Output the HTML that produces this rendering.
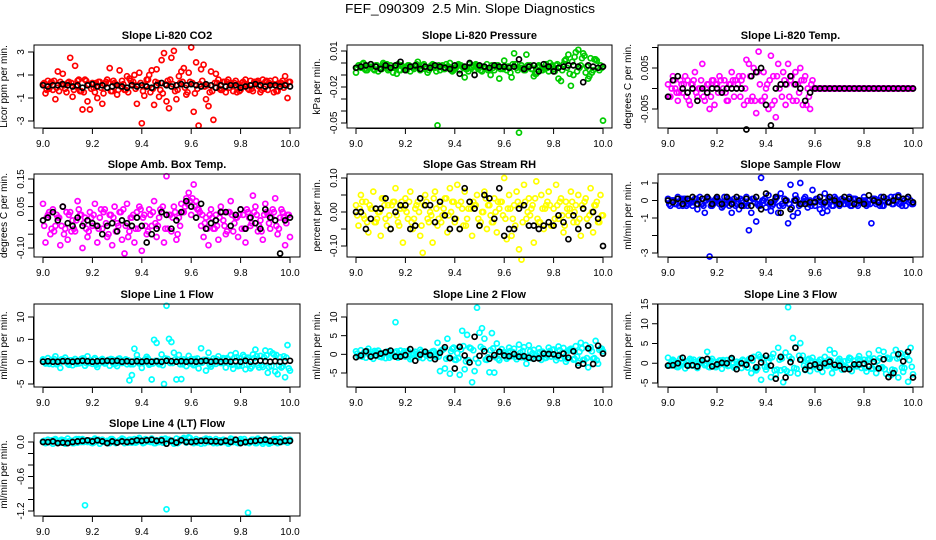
<!DOCTYPE html>
<html><head><meta charset="utf-8"><style>
body{margin:0;background:#fff;}
svg{display:block;font-family:"Liberation Sans",sans-serif;}
</style></head><body>
<svg id="chart" width="936" height="540" viewBox="0 0 936 540" xmlns="http://www.w3.org/2000/svg">
<text x="470" y="13" text-anchor="middle" font-size="13" textLength="250" lengthAdjust="spacingAndGlyphs" xml:space="preserve">FEF_090309  2.5 Min. Slope Diagnostics</text>
</svg>
<script>
// shared x values
const X1=[9.00,9.01,9.02,9.03,9.04,9.05,9.06,9.07,9.08,9.09,9.10,9.11,9.12,9.13,9.14,9.15,9.16,9.17,9.18,9.19,9.20,9.21,9.22,9.23,9.24,9.25,9.26,9.27,9.28,9.29,9.30,9.31,9.32,9.33,9.34,9.35,9.36,9.37,9.38,9.39,9.40,9.41,9.42,9.43,9.44,9.45,9.46,9.47,9.48,9.49,9.50,9.51,9.52,9.53,9.54,9.55,9.56,9.57,9.58,9.59,9.60,9.61,9.62,9.63,9.64,9.65,9.66,9.67,9.68,9.69,9.70,9.71,9.72,9.73,9.74,9.75,9.76,9.77,9.78,9.79,9.80,9.81,9.82,9.83,9.84,9.85,9.86,9.87,9.88,9.89,9.90,9.91,9.92,9.93,9.94,9.95,9.96,9.97,9.98,9.99,10.00];
const X2=[9.005,9.025,9.045,9.065,9.085,9.105,9.125,9.145,9.165,9.185,9.205,9.225,9.245,9.265,9.285,9.305,9.325,9.345,9.365,9.385,9.405,9.425,9.445,9.465,9.485,9.505,9.525,9.545,9.565,9.585,9.605,9.625,9.645,9.665,9.685,9.705,9.725,9.745,9.765,9.785,9.805,9.825,9.845,9.865,9.885,9.905,9.925,9.945,9.965,9.985];
const X3=[9.015,9.035,9.055,9.075,9.095,9.115,9.135,9.155,9.175,9.195,9.215,9.235,9.255,9.275,9.295,9.315,9.335,9.355,9.375,9.395,9.415,9.435,9.455,9.475,9.495,9.515,9.535,9.555,9.575,9.595,9.615,9.635,9.655,9.675,9.695,9.715,9.735,9.755,9.775,9.795,9.815,9.835,9.855,9.875,9.895,9.915,9.935,9.955,9.975,9.995];
const XB=[9.00,9.02,9.04,9.06,9.08,9.10,9.12,9.14,9.16,9.18,9.20,9.22,9.24,9.26,9.28,9.30,9.32,9.34,9.36,9.38,9.40,9.42,9.44,9.46,9.48,9.50,9.52,9.54,9.56,9.58,9.60,9.62,9.64,9.66,9.68,9.70,9.72,9.74,9.76,9.78,9.80,9.82,9.84,9.86,9.88,9.90,9.92,9.94,9.96,9.98,10.00];
const xTicks=[9.0,9.2,9.4,9.6,9.8,10.0];
const xTickLabels=["9.0","9.2","9.4","9.6","9.8","10.0"];

// Panel 1: CO2
const co2A=[0.2,-0.6,0.5,0.3,-0.3,-1.1,1.3,0.4,1.1,-0.2,0.3,2.5,-0.9,1.8,0.5,-0.4,-2.0,0.6,-1.3,-2.0,0.3,-0.5,-1.0,0.4,-1.5,0.2,0.6,1.6,-0.4,0.3,-0.7,1.4,0.5,-0.3,0.9,0.7,0.2,1.0,-1.5,1.2,-3.2,-0.8,0.6,1.0,1.4,-1.6,1.5,-0.9,2.3,2.9,-1.3,-1.9,2.5,3.1,-1.1,0.9,1.3,1.6,-0.7,1.2,3.4,-2.2,2.1,-3.4,1.5,1.9,-1.1,-1.7,1.3,-2.9,1.1,0.6,-0.3,0.4,-0.5,0.6,0.3,-0.4,0.5,0.2,-0.3,0.4,0.6,-0.2,0.5,-0.4,0.3,0.5,-0.5,0.6,0.4,-0.3,0.5,0.2,0.6,-0.4,0.3,0.5,0.9,-1.0,0.4];
const co2B=[0.3,-0.2,0.5,-0.4,0.1,0.4,-0.3,0.6,-0.5,0.2,-0.1,0.4,-0.6,0.3,0.5,-0.3,0.2,-0.5,0.4,0.1,-0.4,0.6,-0.2,0.3,-0.6,0.5,0.2,-0.3,0.4,-0.5,0.3,-0.2,0.5,0.1,-0.4,0.3,-0.3,0.4,0.2,-0.5,0.3,0.1,-0.2,0.4,-0.3,0.5,0.2,-0.4,0.3,0.1];
const co2C=[-0.3,0.4,-0.1,0.2,-0.5,0.3,0.0,-0.4,0.5,-0.2,0.3,-0.1,0.4,-0.4,0.2,0.0,-0.3,0.5,-0.2,0.3,0.1,-0.5,0.4,-0.3,0.2,0.6,-0.4,0.3,-0.1,0.4,-0.6,0.2,0.0,-0.5,0.3,-0.2,0.4,-0.1,0.3,-0.4,0.2,-0.3,0.4,0.0,-0.2,0.3,-0.5,0.2,-0.1,0.4];
const co2K=[0.1,0.0,0.1,0.1,0.2,0.1,0.0,0.1,-0.1,0.1,0.2,0.0,0.1,-0.1,0.0,0.1,0.0,-0.1,0.1,0.0,0.1,0.0,-0.1,0.1,0.3,0.1,0.0,0.1,0.2,0.1,0.2,0.1,0.0,0.2,0.1,-0.1,0.1,0.0,0.1,0.1,-0.1,0.0,0.1,0.2,0.1,0.0,0.1,0.1,0.0,0.1,0.0];

// Panel 2: Pressure
const prA=[-0.008,-0.002,-0.004,0.000,-0.006,-0.003,-0.001,-0.005,-0.002,-0.007,-0.004,0.000,-0.003,-0.006,-0.002,-0.008,-0.004,-0.001,-0.006,-0.003,-0.005,-0.002,-0.007,-0.004,-0.003,0.001,-0.006,-0.002,-0.005,-0.008,-0.003,-0.001,-0.004,-0.052,-0.006,-0.002,-0.005,-0.003,0.000,-0.007,-0.004,-0.002,-0.006,-0.003,-0.012,-0.005,-0.001,-0.004,-0.006,-0.002,-0.003,-0.007,-0.004,-0.001,-0.005,-0.002,-0.006,-0.003,-0.013,-0.004,0.002,-0.006,-0.003,-0.012,0.008,-0.004,-0.058,-0.002,-0.006,0.007,-0.003,-0.005,-0.011,-0.009,-0.002,-0.006,-0.004,-0.001,-0.007,-0.003,-0.005,-0.002,-0.013,-0.015,-0.001,0.003,0.007,-0.019,-0.010,0.009,0.011,-0.002,0.008,-0.008,-0.013,0.004,-0.006,0.003,-0.004,-0.002,-0.048];
const prB=[-0.004,-0.001,-0.006,-0.003,-0.002,-0.005,-0.001,-0.004,-0.009,-0.002,-0.006,-0.003,-0.001,-0.005,-0.004,-0.002,-0.007,-0.003,-0.001,-0.006,-0.004,-0.002,-0.005,-0.003,-0.001,-0.006,-0.004,-0.010,-0.002,-0.005,-0.003,-0.008,-0.001,-0.004,-0.006,-0.002,-0.009,-0.003,-0.005,0.000,-0.007,-0.003,0.002,-0.009,0.005,-0.004,0.006,-0.011,0.003,-0.006];
const prC=[-0.002,-0.005,-0.003,-0.006,-0.004,-0.001,-0.005,-0.003,-0.006,-0.004,-0.002,-0.005,-0.003,-0.001,-0.006,-0.004,-0.002,-0.005,-0.003,-0.006,-0.001,-0.004,-0.007,-0.002,-0.005,-0.003,-0.006,-0.004,-0.002,-0.005,-0.003,-0.001,-0.006,-0.004,-0.002,-0.005,-0.003,-0.006,-0.004,-0.002,-0.001,-0.006,-0.004,0.001,-0.007,0.004,-0.003,-0.008,0.002,-0.004];
const prK=[-0.004,-0.003,-0.002,-0.001,-0.003,-0.005,-0.002,-0.004,-0.002,0.001,-0.006,-0.003,-0.002,-0.005,-0.003,-0.004,-0.002,-0.003,-0.004,-0.005,-0.002,-0.009,-0.003,0.000,-0.010,-0.002,-0.003,-0.004,-0.002,-0.003,-0.003,-0.004,-0.003,0.003,-0.005,-0.003,-0.002,-0.007,-0.001,-0.003,-0.007,-0.004,-0.003,-0.002,-0.002,-0.003,-0.016,-0.002,-0.003,-0.004,-0.003];

// Panel 3: Temp
const tpA=[0.001,-0.002,0.003,0.000,-0.003,0.002,-0.001,0.003,0.002,-0.004,0.001,0.004,-0.002,0.000,0.006,-0.003,0.001,-0.005,0.002,-0.004,0.001,0.003,-0.001,0.002,-0.003,0.001,0.004,-0.002,0.000,0.003,0.002,-0.004,0.007,0.006,-0.003,0.005,-0.006,0.009,-0.003,0.004,0.000,-0.005,0.008,0.003,-0.007,0.006,0.001,0.004,-0.004,0.006,0.002,-0.003,0.004,0.001,0.005,-0.004,0.003,0.000,-0.005,0.002,0.000,0.000,0.000,0.000,0.000,0.000,0.000,0.000,0.000,0.000,0.000,0.000,0.000,0.000,0.000,0.000,0.000,0.000,0.000,0.000,0.000,0.000,0.000,0.000,0.000,0.000,0.000,0.000,0.000,0.000,0.000,0.000,0.000,0.000,0.000,0.000,0.000,0.000,0.000,0.000,0.000];
const tpB=[-0.002,0.002,-0.001,0.001,-0.003,0.002,0.000,-0.002,0.001,0.002,-0.001,0.000,-0.003,0.002,0.001,0.003,-0.003,-0.002,0.004,-0.003,0.001,-0.004,0.003,-0.002,0.001,0.003,-0.003,0.002,-0.004,0.001,0.000,0.000,0.000,0.000,0.000,0.000,0.000,0.000,0.000,0.000,0.000,0.000,0.000,0.000,0.000,0.000,0.000,0.000,0.000,0.000];
const tpC=[0.000,-0.001,0.001,-0.002,0.001,-0.001,0.002,0.000,-0.002,0.001,0.002,-0.001,0.001,0.002,-0.002,0.000,0.003,-0.003,0.001,-0.002,0.002,-0.003,0.000,0.002,-0.002,0.001,-0.001,0.002,-0.002,0.000,0.000,0.000,0.000,0.000,0.000,0.000,0.000,0.000,0.000,0.000,0.000,0.000,0.000,0.000,0.000,0.000,0.000,0.000,0.000,0.000];
const tpK=[-0.002,0.002,0.003,0.000,-0.001,0.000,-0.003,0.000,-0.001,0.000,0.000,-0.001,0.000,0.000,0.000,0.000,-0.010,0.003,0.004,0.005,-0.004,-0.009,0.000,0.001,0.001,0.003,0.001,0.000,-0.003,-0.001,0.000,0.000,0.000,0.000,0.000,0.000,0.000,0.000,0.000,0.000,0.000,0.000,0.000,0.000,0.000,0.000,0.000,0.000,0.000,0.000,0.000];

// Panel 4: Amb box temp
const abA=[0.06,-0.08,0.02,-0.05,0.04,-0.02,0.01,-0.09,0.05,-0.03,-0.07,0.03,0.00,-0.04,0.07,0.02,-0.10,0.01,-0.06,0.03,-0.02,0.06,-0.08,0.01,-0.03,0.04,-0.06,0.02,-0.09,0.05,-0.01,0.03,-0.07,-0.12,0.06,-0.04,0.01,-0.08,0.03,0.05,-0.11,0.02,-0.05,0.04,-0.02,0.07,-0.06,0.01,0.03,-0.08,0.16,0.02,-0.04,0.05,-0.07,0.01,0.06,0.03,0.08,0.10,0.02,0.13,0.07,0.04,-0.02,-0.06,0.01,-0.09,0.04,-0.03,0.02,-0.07,0.05,0.00,-0.05,0.03,0.07,-0.04,0.01,-0.06,0.04,0.02,-0.08,0.03,-0.02,0.09,0.05,-0.04,0.00,-0.07,0.06,0.02,-0.03,0.04,0.08,-0.05,0.01,0.03,-0.09,0.02,-0.06];
const abB=[-0.02,0.03,-0.04,0.01,-0.05,0.02,-0.03,0.04,-0.01,-0.04,0.02,-0.03,0.03,-0.05,0.01,-0.02,0.04,-0.06,0.02,-0.03,0.01,-0.04,0.03,-0.02,0.05,-0.03,0.01,-0.05,0.03,0.06,0.08,0.04,0.02,-0.03,0.01,-0.02,0.03,-0.04,0.02,0.01,-0.03,0.04,-0.01,0.02,-0.04,0.03,0.01,-0.02,0.04,-0.01];
const abC=[0.01,-0.03,0.02,-0.02,0.03,-0.04,0.00,0.02,-0.03,0.01,-0.02,0.04,-0.01,0.02,-0.04,0.03,-0.02,0.01,-0.03,0.04,-0.02,0.02,-0.01,0.04,-0.03,0.02,0.03,-0.02,0.05,0.07,0.05,0.03,-0.01,0.02,-0.03,0.01,-0.02,0.03,-0.01,0.02,-0.03,0.01,0.03,-0.02,0.02,-0.01,0.03,-0.03,0.01,0.02];
const abK=[0.00,0.01,0.03,0.00,0.05,-0.01,-0.02,0.01,-0.02,0.00,-0.01,-0.02,-0.05,-0.02,-0.01,-0.04,0.00,-0.01,-0.02,0.01,-0.02,-0.08,-0.05,-0.03,0.03,0.02,-0.03,0.00,0.03,0.07,0.05,0.01,0.06,-0.03,-0.01,0.00,0.03,0.03,-0.02,0.02,0.04,-0.03,0.01,-0.01,-0.03,0.04,0.01,0.00,-0.12,0.00,0.01];

// Panel 5: Gas RH
const rhA=[0.02,-0.04,0.05,-0.01,0.03,-0.06,0.01,0.06,-0.03,0.00,-0.07,0.04,-0.02,0.02,-0.05,0.03,0.07,-0.03,0.01,-0.09,0.04,-0.02,0.06,-0.05,0.01,0.03,-0.07,-0.12,0.05,-0.02,0.00,-0.09,0.06,-0.04,0.02,-0.01,0.04,-0.06,0.07,0.03,-0.03,0.08,-0.05,0.01,0.06,-0.02,0.03,-0.07,0.02,0.05,-0.04,0.00,0.06,-0.05,0.02,-0.03,0.04,-0.06,0.01,0.03,0.10,-0.08,0.05,-0.07,0.02,0.06,-0.11,-0.14,0.08,-0.02,0.04,0.01,-0.09,0.09,-0.03,0.05,-0.05,0.02,0.06,-0.04,0.01,0.08,-0.02,0.04,-0.06,0.03,-0.01,0.06,-0.03,0.02,0.05,-0.07,0.01,0.04,-0.04,0.07,-0.06,0.02,-0.03,0.05,-0.01];
const rhB=[-0.01,0.03,-0.03,0.01,-0.02,0.04,-0.04,0.02,-0.01,0.03,0.00,-0.03,0.02,-0.04,0.03,-0.01,0.01,-0.03,0.04,0.00,-0.02,0.03,-0.04,0.01,0.02,-0.03,0.04,-0.01,0.00,0.03,-0.02,0.01,-0.04,0.02,0.03,-0.01,0.04,-0.03,0.01,0.02,-0.02,0.03,-0.04,0.01,0.00,-0.02,0.03,-0.01,0.02,-0.03];
const rhC=[0.01,-0.02,0.02,-0.03,0.00,0.02,-0.01,0.03,-0.04,0.01,0.03,-0.02,0.00,0.02,-0.03,0.04,-0.02,0.01,-0.01,0.03,0.02,-0.04,0.01,0.03,-0.02,0.00,0.02,-0.03,0.03,-0.01,0.01,-0.02,0.03,-0.03,0.00,0.02,-0.02,0.01,0.03,-0.04,0.02,-0.01,0.01,0.03,-0.03,0.02,-0.02,0.00,0.03,-0.01];
const rhK=[0.00,0.00,-0.05,-0.02,0.01,0.01,0.04,-0.05,0.00,0.02,0.02,-0.05,-0.04,0.04,0.02,0.02,-0.03,0.03,-0.01,-0.05,-0.02,-0.05,0.07,0.03,0.01,-0.04,0.05,0.04,-0.02,0.07,-0.07,-0.05,-0.05,0.01,0.02,-0.04,-0.04,-0.05,-0.04,-0.03,-0.04,-0.01,-0.03,-0.08,-0.01,-0.05,0.01,-0.04,0.00,-0.02,-0.10];

// Panel 6: Sample flow
const sfA=[0.1,-0.3,0.0,-0.2,0.2,-0.1,-0.3,0.1,-0.2,0.0,-0.3,0.1,-0.5,0.2,-0.2,-0.7,0.1,-3.2,-0.3,0.0,0.1,-0.2,-0.4,0.2,0.0,-0.3,-0.7,0.1,-0.2,-0.5,0.0,-0.3,0.2,-1.7,-0.7,0.1,-1.2,-0.3,1.3,0.0,-0.4,0.3,-0.6,-0.2,0.1,-0.7,0.4,-0.3,0.0,-1.3,0.9,-0.9,0.3,-0.7,1.0,-0.1,0.2,-0.4,0.0,0.6,-0.3,0.1,-0.5,-0.7,0.4,-0.6,0.0,-0.3,0.2,-0.1,-0.3,0.1,-0.2,0.0,0.2,-0.3,0.1,-0.2,0.0,-0.1,0.2,-0.3,0.0,-1.3,0.1,-0.2,0.0,0.2,-0.3,0.1,-0.1,0.2,-0.2,0.0,0.3,-0.1,0.1,-0.3,0.2,0.0,-0.2];
const sfB=[-0.2,0.0,-0.3,0.1,-0.2,-0.1,0.0,-0.3,0.1,-0.2,0.0,-0.3,0.1,-0.1,-0.2,0.0,-0.3,0.1,-0.2,0.0,-0.1,-0.3,0.2,-0.2,0.0,-0.4,0.1,-0.2,0.0,-0.3,0.1,-0.1,-0.3,0.0,0.1,-0.2,0.0,-0.3,0.1,-0.1,0.0,-0.2,0.1,-0.3,0.0,-0.1,0.2,-0.2,0.0,-0.1];
const sfC=[0.0,-0.2,0.1,-0.3,-0.1,0.1,-0.2,0.0,-0.3,0.1,-0.1,-0.2,0.0,-0.3,0.1,-0.2,0.0,-0.1,-0.3,0.1,-0.2,0.0,-0.3,0.1,-0.2,0.0,-0.3,0.1,-0.2,-0.1,0.0,-0.2,0.1,-0.3,-0.1,0.0,-0.2,0.1,-0.3,0.0,-0.2,0.1,-0.1,-0.3,0.1,-0.2,0.0,-0.3,0.1,-0.2];
const sfK=[0.0,-0.1,0.1,-0.2,0.1,0.2,-0.2,0.1,0.2,-0.2,0.2,-0.2,0.2,-0.2,0.2,-0.3,0.1,-0.3,0.2,-0.5,0.4,-0.1,0.2,-0.7,0.0,-0.5,0.0,-0.2,-0.2,-0.1,-0.1,0.2,-0.1,0.2,0.0,-0.2,0.2,0.1,-0.2,0.0,-0.2,0.3,0.0,-0.1,0.2,-0.1,0.0,0.2,0.1,0.2,-0.1];

// Panel 7: Line 1 flow
const l1A=[0.5,-0.4,0.8,0.2,-0.6,1.2,-0.2,-1.4,0.4,0.9,-0.5,0.3,-0.8,0.6,0.1,-0.3,0.7,-0.9,1.2,0.3,-0.5,0.8,-1.2,0.2,0.6,-0.4,0.1,-0.9,0.5,0.3,-1.0,0.7,-0.3,0.2,-0.6,-4.2,-3.0,2.9,1.5,-0.4,-1.4,0.3,1.1,-0.7,-4.0,4.9,4.2,-0.6,1.6,-5.0,12.5,5.1,4.4,2.0,-4.0,1.5,-3.9,0.5,-1.0,1.3,0.6,-0.8,0.2,-1.5,3.0,0.4,-2.0,2.0,-1.1,0.7,-0.5,1.2,-0.3,0.8,-1.3,0.5,1.5,-1.6,1.9,-1.0,0.7,1.5,-1.7,0.9,-1.5,1.6,2.7,-0.8,1.3,-1.2,2.5,-2.5,2.3,1.9,-2.2,-2.8,1.0,-1.0,-3.5,3.7,-2.0];
const l1B=[0.3,-0.5,0.6,-0.2,0.4,-0.7,0.2,-0.4,0.7,-0.3,0.5,-0.6,0.1,0.4,-0.5,0.6,-0.2,0.3,-0.6,0.5,-0.3,0.7,-0.4,0.2,-0.8,0.6,-0.3,0.4,-0.6,0.3,-0.5,0.7,-0.2,0.4,-0.6,0.5,-0.3,0.8,-0.7,1.0,-0.9,0.6,-1.1,1.2,-0.8,1.4,-1.0,1.5,-1.3,0.9];
const l1C=[-0.2,0.4,-0.6,0.5,-0.1,0.3,-0.5,0.6,-0.3,0.2,-0.7,0.4,-0.2,0.6,-0.4,0.1,0.5,-0.6,0.3,-0.2,0.6,-0.5,0.2,-0.4,0.7,-0.3,0.5,-0.6,0.2,-0.4,0.6,-0.3,0.4,-0.7,0.3,-0.2,0.6,-0.5,0.9,-0.8,1.1,-0.6,0.8,-1.3,1.0,-1.2,1.6,-0.9,1.2,-1.5];
const l1K=[0.0,0.1,0.0,0.0,0.1,0.1,0.0,0.1,0.2,0.1,0.0,0.1,0.1,0.2,0.1,0.2,0.0,0.1,0.0,0.1,0.0,0.1,0.0,0.1,0.0,0.2,0.1,0.0,0.1,0.0,0.1,0.0,0.1,0.2,0.0,0.1,0.0,0.1,0.0,0.1,0.0,0.2,0.0,0.1,0.2,0.1,0.0,0.1,0.0,0.1,0.2];

// Panel 8: Line 2 flow
const l2A=[0.8,-0.5,1.1,0.2,-0.9,1.5,0.0,-1.2,0.6,1.0,-0.7,0.3,-1.0,0.8,0.2,-0.4,8.6,-0.9,1.0,0.3,-0.6,0.9,-1.3,0.1,0.7,-0.5,1.2,-1.0,0.4,0.3,-1.1,0.8,-0.4,3.1,-4.5,1.2,-3.8,4.2,-5.2,1.5,-1.4,0.3,-5.5,6.3,-4.0,5.2,1.8,-7.5,-4.5,12.5,5.8,7.0,4.2,-1.5,-4.8,5.7,-4.9,2.9,-1.6,1.4,0.6,-1.2,1.8,-0.5,1.5,-1.3,2.6,-0.8,1.9,-2.5,2.4,-1.0,1.2,-0.3,1.6,-1.5,0.4,-0.9,1.8,-0.6,1.3,-1.6,2.1,-1.1,1.7,-2.0,1.0,1.5,-1.4,2.2,-2.3,3.1,-1.5,2.5,-3.5,1.9,-1.2,3.6,-2.5,1.6,0.8];
const l2B=[0.2,-0.6,0.9,-0.3,0.5,-0.8,0.3,-0.5,0.8,-0.2,0.6,-0.9,0.1,0.7,-0.4,0.5,-0.7,1.0,-1.2,0.8,-1.5,1.3,-1.9,1.6,-1.2,2.0,-1.4,1.1,-0.8,0.6,-0.5,0.9,-0.7,0.4,-0.9,0.8,-0.4,0.6,-1.0,0.9,-0.5,1.1,-0.9,1.3,-1.2,0.7,-1.5,1.4,-1.0,1.2];
const l2C=[-0.4,0.7,-0.2,0.9,-0.6,0.4,-0.9,0.6,-0.3,0.8,-0.5,0.3,-0.8,0.5,-0.2,0.9,-0.6,1.4,-0.9,1.8,-1.0,2.2,-1.6,1.1,-2.3,1.5,-0.8,1.6,-1.2,0.4,-0.8,0.6,-0.3,0.9,-0.6,0.3,-0.9,0.7,-0.4,1.2,-0.8,0.5,-1.3,1.0,-0.6,1.6,-1.0,0.8,-1.6,1.5];
const l2K=[-0.8,-0.3,0.8,-0.6,-0.3,0.2,0.6,1.0,-0.6,-0.6,-0.2,1.4,-1.7,-0.1,0.7,-0.2,-1.3,0.4,1.9,-1.0,-3.8,2.0,-0.3,-2.2,4.7,-0.4,0.8,-1.2,-0.2,0.7,-0.3,-0.5,0.1,-0.6,-0.5,-0.9,-1.2,-1.1,0.2,0.1,0.0,-0.3,0.2,-0.9,0.8,-3.0,-2.5,1.6,-2.6,2.3,0.2];

// Panel 9: Line 3 flow
const l3A=[1.4,-0.6,0.9,0.2,-1.0,1.2,-0.1,-1.3,0.5,1.1,-0.6,0.3,-1.2,0.9,0.1,-0.5,2.9,-1.0,1.1,0.4,-0.8,0.7,-1.4,0.2,0.8,-0.6,1.3,-1.1,0.4,0.2,-1.2,0.6,-0.4,1.0,-2.5,1.6,-1.8,2.2,-4.2,1.3,-1.6,0.5,-3.5,2.4,-2.9,3.9,-1.8,-4.8,2.7,14.2,-2.4,6.4,4.0,-2.6,5.1,1.9,-1.7,0.8,-2.0,1.4,0.3,-1.5,0.9,-2.2,1.6,-0.7,3.4,-2.5,2.5,-0.9,1.1,-1.6,0.5,-1.1,1.4,-2.0,0.6,-0.8,1.8,-1.2,0.9,-2.1,2.4,-1.4,1.2,-2.5,3.3,-1.2,2.9,-2.7,1.2,-3.0,2.1,3.4,-3.6,2.5,-2.2,2.2,-4.7,3.9,-2.8];
const l3B=[-0.4,0.6,-0.8,0.3,-0.6,0.9,-0.2,0.5,-0.9,0.4,-0.3,0.8,-0.7,0.2,-0.5,0.9,-1.1,0.7,-1.3,1.0,-0.9,1.5,-1.6,1.2,-2.0,1.1,-1.4,0.8,-1.0,0.6,-0.7,0.9,-0.5,0.7,-1.1,0.4,-0.8,1.2,-0.6,0.9,-1.2,1.0,-0.8,1.3,-1.5,1.1,-1.8,1.4,-1.2,0.8];
const l3C=[0.5,-0.9,0.3,-0.4,0.8,-0.7,0.5,-0.2,0.6,-1.0,0.7,-0.3,0.9,-0.8,0.4,-0.6,1.2,-1.4,1.6,-0.9,1.3,-1.8,0.9,-1.5,1.7,-1.2,1.9,-0.6,1.1,-0.8,0.4,-0.6,0.9,-1.0,0.7,-0.5,0.8,-0.9,1.1,-0.4,0.9,-1.3,0.6,-1.0,1.4,-1.6,1.2,-1.1,1.8,-0.9];
const l3K=[-0.6,-0.5,0.0,1.4,-0.6,-0.5,-0.8,0.8,1.1,-0.8,-0.3,0.1,0.0,1.3,-1.5,0.0,-0.4,1.3,-1.0,0.2,1.9,-0.6,-3.9,1.6,-3.6,0.3,3.9,0.9,-1.6,-0.6,-0.3,-1.1,0.0,0.4,-0.4,-0.6,-1.5,-1.5,-0.3,-0.3,-0.1,-0.8,0.4,-1.3,1.0,-3.5,-2.5,2.3,0.5,2.9,-3.6];

// Panel 10: Line 4 (LT) flow
const l4A=[0.01,-0.02,0.04,0.00,-0.03,0.05,0.02,-0.01,0.03,-0.03,0.06,0.01,-0.02,0.04,-0.01,0.02,0.05,-1.10,0.00,0.03,-0.02,0.06,0.01,-0.03,0.04,0.00,0.02,-0.02,0.05,0.01,-0.01,0.03,0.06,-0.02,0.02,0.04,-0.01,0.05,0.00,0.07,0.02,-0.01,0.04,0.01,0.06,-0.02,0.03,0.00,0.05,-0.01,-1.17,0.04,0.02,-0.03,0.06,0.00,0.03,0.07,-0.01,0.08,0.02,-0.02,0.05,0.01,-0.03,0.04,0.06,0.00,0.03,-0.02,0.05,0.01,-0.01,0.04,0.02,-0.03,0.06,0.00,0.03,-0.02,0.05,0.01,-0.01,-1.23,0.02,0.04,-0.02,0.06,0.01,-0.03,0.05,0.02,-0.01,0.04,0.00,-0.02,0.06,0.01,0.03,-0.01,0.04];
const l4B=[0.02,0.00,0.04,-0.01,0.03,0.01,-0.02,0.05,0.00,0.02,-0.01,0.04,0.01,-0.02,0.03,0.00,0.05,-0.01,0.02,0.04,-0.02,0.01,0.03,0.00,-0.01,0.04,0.02,-0.02,0.05,0.01,0.03,-0.01,0.02,0.04,0.00,-0.02,0.03,0.01,0.05,-0.01,0.02,0.00,0.04,-0.02,0.01,0.03,-0.01,0.05,0.00,0.02];
const l4C=[-0.01,0.03,0.01,0.04,-0.02,0.02,0.05,0.00,0.03,-0.01,0.04,0.02,0.00,0.05,-0.02,0.03,0.01,0.04,-0.01,0.02,0.05,0.00,-0.02,0.03,0.06,0.01,-0.01,0.04,0.02,0.07,0.00,0.03,-0.02,0.05,0.01,0.03,0.00,-0.01,0.04,0.02,0.05,-0.02,0.01,0.04,0.00,-0.03,0.05,0.02,0.01,0.04];
const l4K=[0.00,0.00,0.01,-0.02,-0.01,-0.02,0.00,0.01,0.02,0.03,0.01,0.03,0.01,-0.02,0.01,-0.01,0.01,0.00,0.01,0.03,0.02,0.03,0.04,0.02,0.03,-0.03,0.02,-0.01,0.03,0.00,0.00,0.01,0.02,0.02,0.01,0.01,0.00,0.02,0.00,0.04,-0.02,0.00,0.01,0.02,0.03,0.04,0.02,0.01,0.00,0.02,0.02];

const NS="http://www.w3.org/2000/svg";
const svg=document.getElementById('chart');
function mk(tag,attrs,parent){const e=document.createElementNS(NS,tag);for(const k in attrs)e.setAttribute(k,attrs[k]);(parent||svg).appendChild(e);return e;}

const colX=[{l:34,r:300,x0:43,x1:290},{l:347,r:612,x0:356,x1:603},{l:658,r:923,x0:668,x1:913}];
const rowY=[{t:45,b:128},{t:174,b:257},{t:304,b:387},{t:433,b:516}];

const panels=[
 {id:'co2',title:'Slope Li-820 CO2',ylab:'Licor ppm per min.',col:0,row:0,color:'#ff0000',A:co2A,B:co2B,C:co2C,K:co2K,v0:3,p0:52,v1:-3,p1:121,ticks:[-3,-1,1,3],labels:['-3','-1','1','3']},
 {id:'pressure',title:'Slope Li-820 Pressure',ylab:'kPa per min.',col:1,row:0,color:'#00cc00',A:prA,B:prB,C:prC,K:prK,v0:0.01,p0:51,v1:-0.05,p1:123,ticks:[-0.05,-0.04,-0.03,-0.02,-0.01,0,0.01],labels:['-0.05','','','-0.02','','','0.01']},
 {id:'temp',title:'Slope Li-820 Temp.',ylab:'degrees C per min.',col:2,row:0,color:'#ff00ff',A:tpA,B:tpB,C:tpC,K:tpK,v0:0.005,p0:68,v1:-0.005,p1:109,ticks:[-0.005,0,0.005,0.01],labels:['-0.005','','0.005','']},
 {id:'amb-box-temp',title:'Slope Amb. Box Temp.',ylab:'degrees C per min.',col:0,row:1,color:'#ff00ff',A:abA,B:abB,C:abC,K:abK,v0:0.15,p0:179,v1:-0.10,p1:248,ticks:[-0.10,-0.05,0,0.05,0.10,0.15],labels:['-0.10','','','0.05','','0.15']},
 {id:'gas-rh',title:'Slope Gas Stream RH',ylab:'percent per min.',col:1,row:1,color:'#ffff00',A:rhA,B:rhB,C:rhC,K:rhK,v0:0.10,p0:178,v1:-0.10,p1:246,ticks:[-0.10,-0.05,0,0.05,0.10],labels:['-0.10','','0.00','','0.10']},
 {id:'sample-flow',title:'Slope Sample Flow',ylab:'ml/min per min.',col:2,row:1,color:'#0000ff',A:sfA,B:sfB,C:sfC,K:sfK,v0:1,p0:183,v1:-3,p1:253,ticks:[-3,-2,-1,0,1],labels:['-3','','-1','0','1']},
 {id:'line1-flow',title:'Slope Line 1 Flow',ylab:'ml/min per min.',col:0,row:2,color:'#00ffff',A:l1A,B:l1B,C:l1C,K:l1K,v0:10,p0:317,v1:-5,p1:384,ticks:[-5,0,5,10],labels:['-5','0','5','10']},
 {id:'line2-flow',title:'Slope Line 2 Flow',ylab:'ml/min per min.',col:1,row:2,color:'#00ffff',A:l2A,B:l2B,C:l2C,K:l2K,v0:10,p0:317,v1:-5,p1:373,ticks:[-5,0,5,10],labels:['-5','0','5','10']},
 {id:'line3-flow',title:'Slope Line 3 Flow',ylab:'ml/min per min.',col:2,row:2,color:'#00ffff',A:l3A,B:l3B,C:l3C,K:l3K,v0:15,p0:304,v1:-5,p1:383,ticks:[-5,0,5,10,15],labels:['-5','0','5','10','15']},
 {id:'line4-flow',title:'Slope Line 4 (LT) Flow',ylab:'ml/min per min.',col:0,row:3,color:'#00ffff',A:l4A,B:l4B,C:l4C,K:l4K,v0:0,p0:442,v1:-1.2,p1:511,ticks:[-1.2,-1.0,-0.8,-0.6,-0.4,-0.2,0],labels:['-1.2','','','-0.6','','','0.0']}
];

panels.forEach(p=>{
  const c=colX[p.col], r=rowY[p.row];
  const g=mk('g',{});
  
  
  const xs=v=>c.x0+(v-9)*(c.x1-c.x0);
  const ys=v=>p.p0+(v-p.v0)*(p.p1-p.p0)/(p.v1-p.v0);
  const t=mk('text',{x:(c.l+c.r)/2,y:r.t-6,'text-anchor':'middle','font-size':'11','font-weight':'bold'},g);
  t.textContent=p.title;
  
  
  const pg=mk('g',{fill:'none','stroke-width':'1.7'},g);
  
  
  const pts=[[X1,p.A,p.color],[X2,p.B,p.color],[X3,p.C,p.color],[XB,p.K,'#000']];
  pts.forEach(([X,Y,col])=>{
    for(let i=0;i<Math.min(X.length,Y.length);i++){
      const cc=mk('circle',{cx:xs(X[i]).toFixed(1),cy:ys(Y[i]).toFixed(1),r:'2.5',stroke:col},pg);
      
      
    }
  });
  const b=mk('rect',{x:c.l,y:r.t,width:c.r-c.l,height:r.b-r.t,fill:'none',stroke:'#000','stroke-width':'1'},g);
  
  
  const xa=mk('g',{stroke:'#000','stroke-width':'1'},g);
  
  
  mk('line',{x1:xs(xTicks[0]),x2:xs(xTicks[xTicks.length-1]),y1:r.b+0.5,y2:r.b+0.5},xa);
  xTicks.forEach((v,i)=>{
    mk('line',{x1:xs(v),x2:xs(v),y1:r.b,y2:r.b+6},xa);
    const tl=mk('text',{x:xs(v),y:r.b+19,'text-anchor':'middle','font-size':'10',stroke:'none'},xa);
    tl.textContent=xTickLabels[i];
    
    
  });
  const ya=mk('g',{stroke:'#000','stroke-width':'1'},g);
  
  
  mk('line',{x1:c.l-0.5,x2:c.l-0.5,y1:ys(p.ticks[0]),y2:ys(p.ticks[p.ticks.length-1])},ya);
  p.ticks.forEach((v,i)=>{
    mk('line',{x1:c.l-6,x2:c.l,y1:ys(v),y2:ys(v)},ya);
    if(p.labels[i]){
      const yy=ys(v), xx=c.l-10;
      const tl=mk('text',{x:xx,y:yy,'text-anchor':'middle','font-size':'10',stroke:'none',transform:`rotate(-90 ${xx} ${yy})`},ya);
      tl.textContent=p.labels[i];
      
      
    }
  });
  const ym=(r.t+r.b)/2, yx=c.l-27;
  const yt=mk('text',{x:yx,y:ym,'text-anchor':'middle','font-size':'10',transform:`rotate(-90 ${yx} ${ym})`},g);
  yt.textContent=p.ylab;
  
  
});
</script>
</body></html>
